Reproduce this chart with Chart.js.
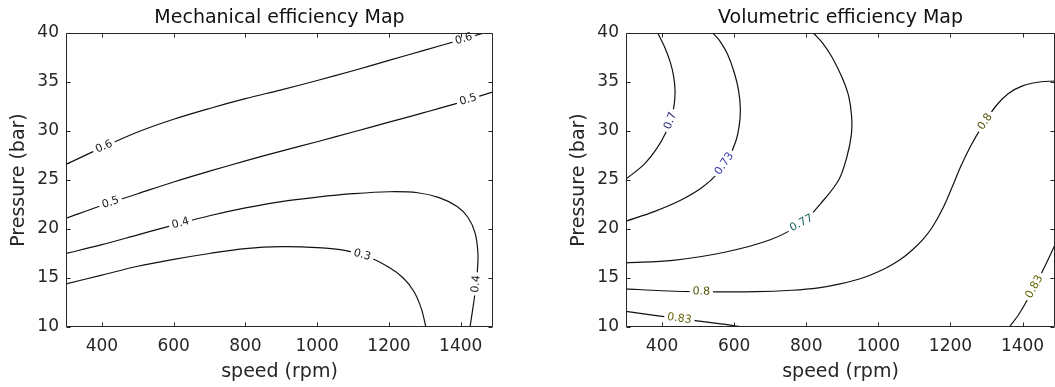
<!DOCTYPE html>
<html>
<head>
<meta charset="utf-8">
<script src="https://cdn.jsdelivr.net/npm/chart.js@4.4.1/dist/chart.umd.min.js"></script>
<style>
  body { margin: 0; background: #fff; }
  #wrap { position: relative; width: 1055px; height: 387px; overflow: hidden; }
  canvas { position: absolute; top: 0; }
  #mech { left: 0; }
  #vol { left: 560px; }
</style>
</head>
<body>
<div id="wrap">
  <canvas id="mech" width="527" height="387"></canvas>
  <canvas id="vol" width="495" height="387"></canvas>
</div>
<script>
// axes
const xTicks = [400, 600, 800, 1000, 1200, 1400];
const yTicks = [10, 15, 20, 25, 30, 35, 40];
const speedMin = 300, speedMax = 1490;
const presMin = 10, presMax = 40;

// mechanical efficiency contours, [speed rpm, pressure bar]
const mech06 = [[300,26.6],[400,28.3],[500,29.9],[600,31.2],[700,32.3],[800,33.3],[900,34.2],[1000,35.15],[1100,36.15],[1200,37.2],[1300,38.25],[1400,39.3],[1465,40]];
const mech05 = [[300,21.1],[400,22.4],[500,23.6],[600,24.8],[700,25.9],[800,26.95],[900,27.95],[1000,28.9],[1100,29.9],[1200,30.9],[1300,31.9],[1400,32.95],[1490,34.0]];
const mech04 = [[300,17.5],[400,18.4],[500,19.4],[600,20.4],[700,21.35],[800,22.15],[900,22.8],[1000,23.25],[1100,23.6],[1200,23.8],[1280,23.7],[1340,23.2],[1390,22.3],[1420,21.2],[1440,19.6],[1448,17.5],[1446,15.5],[1440,13.5],[1433,11.7],[1426,10]];
const mech03 = [[300,14.4],[400,15.3],[500,16.2],[600,16.9],[700,17.5],[800,18.0],[900,18.2],[1000,18.1],[1080,17.8],[1140,17.2],[1200,16.1],[1240,15.0],[1270,13.6],[1290,11.9],[1303,10]];

// volumetric efficiency contours
const vol070 = [[300,25.1],[350,26.6],[385,28.2],[410,29.8],[426,31.3],[434,32.8],[436,34.2],[432,35.6],[423,37.0],[408,38.5],[388,40]];
const vol073 = [[300,20.8],[380,21.8],[450,22.9],[510,24.2],[555,25.7],[585,27.3],[605,29.0],[615,30.8],[617,32.4],[612,34.2],[600,36.0],[582,37.8],[562,39.1],[541,40]];
const vol077 = [[300,16.55],[430,16.8],[570,17.6],[700,18.9],[787,20.6],[840,22.6],[890,25.0],[913,27.4],[925,29.6],[926,31.4],[918,33.5],[900,35.4],[872,37.5],[845,39.0],[820,40]];
const vol080 = [[300,13.9],[400,13.7],[509,13.6],[662,13.6],[760,13.75],[834,14.0],[894,14.4],[960,15.05],[1020,16.0],[1060,16.85],[1094,17.85],[1125,19.0],[1150,20.2],[1180,22.2],[1205,24.3],[1230,26.5],[1258,28.6],[1290,30.6],[1325,32.5],[1360,33.8],[1400,34.6],[1447,35.0],[1490,35.1]];
const vol083a = [[300,11.6],[448,10.85],[569,10.3],[625,10]];
const vol083b = [[1363,10],[1388,11.2],[1410,12.55],[1433,14.1],[1450,15.3],[1466,16.5],[1490,18.4]];

// inline contour labels [text, speed, pressure]
const mechLabels = [['0.6',406,28.4],['0.6',1412,39.0],['0.5',425,22.6],['0.5',1424,32.8],['0.4',620,20.5],['0.4',1443,14.4],['0.3',1125,17.3]];
const volLabels = [['0.7',426,31.0],['0.73',575,26.6],['0.77',787,20.6],['0.8',509,13.6],['0.8',1298,30.9],['0.83',448,10.85],['0.83',1433,14.1]];
const volLabelColors = { '0.7': '#2b2b78', '0.73': '#3434a8', '0.77': '#1b6464', '0.8': '#55550c', '0.83': '#66660a' };

const axisColor = '#262626';
const fontFamily = '"DejaVu Sans", sans-serif';

function distToSeg(px, py, a, b) {
  const dx = b[0] - a[0], dy = b[1] - a[1];
  const len = dx * dx + dy * dy || 1;
  let t = ((px - a[0]) * dx + (py - a[1]) * dy) / len;
  t = Math.max(0, Math.min(1, t));
  const qx = a[0] + t * dx, qy = a[1] + t * dy;
  return { d: Math.hypot(px - qx, py - qy), qx, qy };
}

const contourLabels = {
  id: 'contourLabels',
  afterDatasetsDraw(chart, args, opts) {
    const { ctx, scales: { x, y } } = chart;
    const polys = chart.data.datasets.map(ds => ds.data.map(p => [x.getPixelForValue(p.x), y.getPixelForValue(p.y)]));
    ctx.font = '11px ' + fontFamily;
    ctx.textAlign = 'center';
    ctx.textBaseline = 'middle';
    opts.items.forEach(([text, sx, sy]) => {
      const px = x.getPixelForValue(sx), py = y.getPixelForValue(sy);
      let best = null;
      polys.forEach(poly => {
        for (let i = 0; i < poly.length - 1; i++) {
          const r = distToSeg(px, py, poly[i], poly[i + 1]);
          if (!best || r.d < best.d) best = { ...r, a: poly[i], b: poly[i + 1] };
        }
      });
      let ang = Math.atan2(best.b[1] - best.a[1], best.b[0] - best.a[0]);
      if (ang > Math.PI / 2) ang -= Math.PI;
      if (ang < -Math.PI / 2) ang += Math.PI;
      ctx.save();
      ctx.translate(best.qx, best.qy);
      ctx.rotate(ang);
      const w = ctx.measureText(text).width;
      ctx.fillStyle = '#fff';
      ctx.fillRect(-w / 2 - 3, -5, w + 6, 10);
      ctx.fillStyle = (opts.colors && opts.colors[text]) || '#1a1a1a';
      ctx.fillText(text, 0, 0);
      ctx.restore();
    });
  }
};

// matlab style box with inward ticks
const boxAxes = {
  id: 'boxAxes',
  afterDraw(chart) {
    const { ctx, chartArea: a, scales: { x, y } } = chart;
    const L = Math.round(a.left) + 0.5, R = Math.round(a.right) - 0.5;
    const T = Math.round(a.top) + 0.5, B = Math.round(a.bottom) - 0.5;
    ctx.save();
    ctx.strokeStyle = axisColor;
    ctx.lineWidth = 1;
    ctx.beginPath();
    ctx.rect(L, T, R - L, B - T);
    x.ticks.forEach(t => {
      const p = Math.round(x.getPixelForValue(t.value)) + 0.5;
      ctx.moveTo(p, B); ctx.lineTo(p, B - 4);
      ctx.moveTo(p, T); ctx.lineTo(p, T + 4);
    });
    y.ticks.forEach(t => {
      const p = Math.round(y.getPixelForValue(t.value)) + 0.5;
      ctx.moveTo(L, p); ctx.lineTo(L + 4, p);
      ctx.moveTo(R, p); ctx.lineTo(R - 4, p);
    });
    ctx.stroke();
    ctx.restore();
  }
};

function makeChart(id, title, curves, labels, colors, padRight) {
  return new Chart(document.getElementById(id), {
    type: 'scatter',
    data: {
      datasets: curves.map(c => ({
        data: c.map(([sx, sy]) => ({ x: sx, y: sy })),
        showLine: true,
        borderColor: '#111',
        borderWidth: 1.2,
        pointRadius: 0,
        tension: 0.35,
        fill: false
      }))
    },
    options: {
      responsive: false,
      animation: false,
      devicePixelRatio: 1,
      layout: { padding: { left: 0, right: padRight, top: 0, bottom: 0 } },
      plugins: {
        legend: { display: false },
        tooltip: { enabled: false },
        title: {
          display: true,
          text: title,
          fullSize: false,
          color: '#111',
          font: { family: fontFamily, size: 19, weight: 'normal', lineHeight: 1.2 },
          padding: { top: 7, bottom: 3.2 }
        },
        contourLabels: { items: labels, colors: colors }
      },
      scales: {
        x: {
          type: 'linear',
          min: speedMin,
          max: speedMax,
          grid: { display: false, drawTicks: false },
          border: { display: false },
          afterBuildTicks: s => { s.ticks = xTicks.map(v => ({ value: v })); },
          afterFit: s => { s.height = 60; },
          ticks: { color: axisColor, padding: 9, font: { family: fontFamily, size: 17 }, callback: v => String(v) },
          title: { display: true, text: 'speed (rpm)', color: axisColor, font: { family: fontFamily, size: 19 }, padding: { top: 0, bottom: 4 } }
        },
        y: {
          type: 'linear',
          min: presMin,
          max: presMax,
          grid: { display: false, drawTicks: false },
          border: { display: false },
          afterBuildTicks: s => { s.ticks = yTicks.map(v => ({ value: v })); },
          afterFit: s => { s.width = 66; },
          ticks: { color: axisColor, padding: 7, font: { family: fontFamily, size: 17 }, callback: v => String(v) },
          title: { display: true, text: 'Pressure (bar)', color: axisColor, font: { family: fontFamily, size: 19 }, padding: { top: 8, bottom: 0 } }
        }
      }
    },
    plugins: [contourLabels, boxAxes]
  });
}

makeChart('mech', 'Mechanical efficiency Map', [mech06, mech05, mech04, mech03], mechLabels, null, 34);
makeChart('vol', 'Volumetric efficiency Map', [vol070, vol073, vol077, vol080, vol083a, vol083b], volLabels, volLabelColors, 0);
</script>
</body>
</html>
